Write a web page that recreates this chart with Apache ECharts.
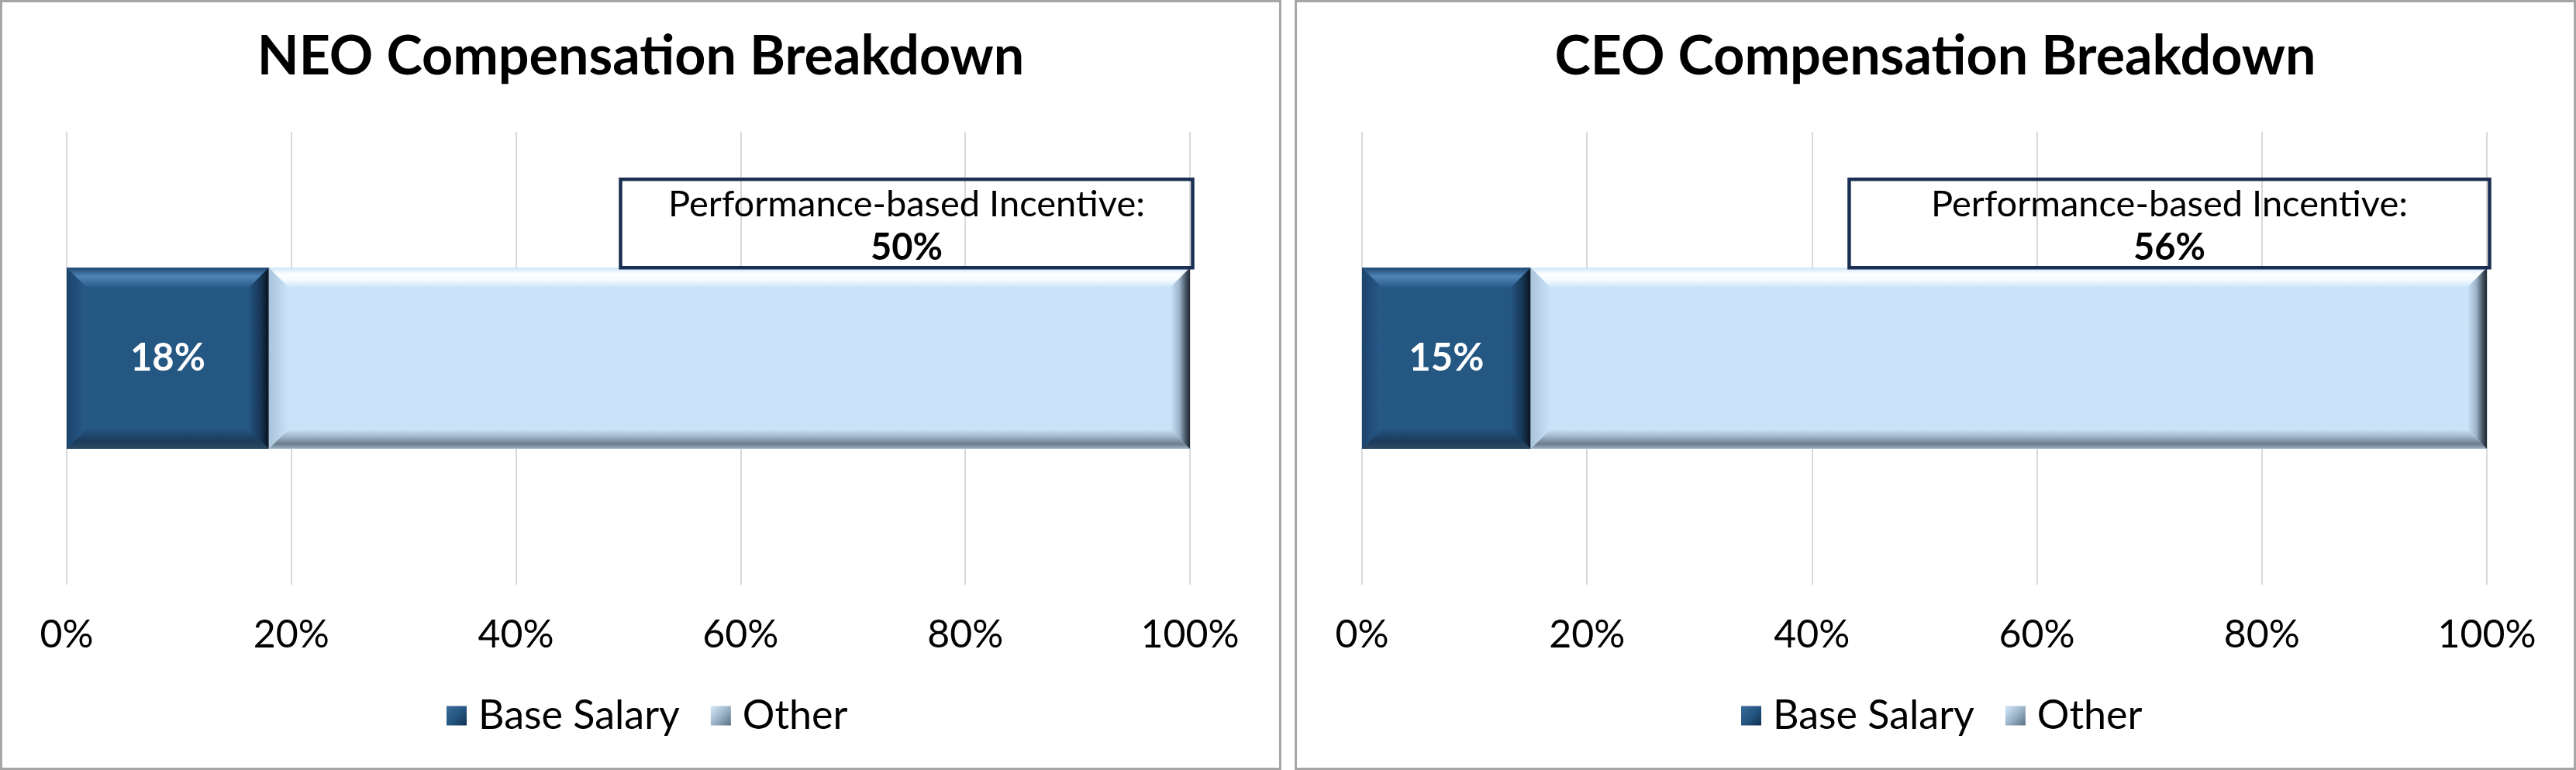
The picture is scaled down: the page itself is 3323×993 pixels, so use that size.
<!DOCTYPE html>
<html>
<head>
<meta charset="utf-8">
<script src="https://cdn.jsdelivr.net/npm/echarts@6/dist/echarts.min.js"></script>
<style>
  html, body { margin: 0; padding: 0; background: #fff; }
  body { width: 3323px; height: 993px; position: relative; overflow: hidden; }
  .panel { position: absolute; top: 0; width: 1653px; height: 993px; box-sizing: border-box; border: 3px solid #a6a6a6; background: #fff; }
  .chart { width: 1647px; height: 987px; }
</style>
</head>
<body>
<div class="panel" style="left:0"><div id="neo" class="chart"></div></div>
<div class="panel" style="left:1670px"><div id="ceo" class="chart"></div></div>
<script>
// ---- data ----
const titles = ['NEO Compensation Breakdown', 'CEO Compensation Breakdown'];
const seriesNames = ['Base Salary', 'Other'];
const categories = ['Compensation'];
const xTicks = [0, 20, 40, 60, 80, 100];
const neoBaseSalary = [18];
const neoOther = [82];
const neoIncentive = [50];
const ceoBaseSalary = [15];
const ceoOther = [85];
const ceoIncentive = [56];
const annotationLabel = 'Performance-based Incentive:';

const FONT = 'Lato';
const G = echarts.graphic;
const lg = (x, y, x2, y2, stops) => new G.LinearGradient(x, y, x2, y2, stops.map((c, i) => ({offset: c[0], color: c[1]})));

const palettes = {
  base: {
    main: '#255783',
    top: [[0, '#1e4872'], [0.45, '#4f84b6'], [1, '#2b5c8b']],
    left: [[0, '#1b446c'], [1, '#285a88']],
    right: [[0, '#245381'], [0.55, '#173756'], [1, '#08131f']],
    bottom: [[0, '#245381'], [0.6, '#1b3b5a'], [1, '#2c4862']]
  },
  other: {
    main: '#cbe3f8',
    top: [[0, '#cfe5f8'], [0.35, '#ffffff'], [0.65, '#f2faff'], [1, '#cde5f9']],
    left: [[0, '#a9c3da'], [1, '#cbe3f8']],
    right: [[0, '#cbe3f8'], [0.45, '#9cb3c8'], [0.8, '#43525f'], [1, '#1d2832']],
    bottom: [[0, '#cbe3f8'], [0.35, '#a3b9cd'], [0.75, '#6b7c8d'], [1, '#9fb4c7']]
  }
};

function bevelRender(pal, showLabel) {
  return function (params, api) {
    const s = api.value(0), e = api.value(1), cat = api.value(2);
    const p0 = api.coord([s, cat]), p1 = api.coord([e, cat]);
    const h = api.size([0, 1])[1] * 0.4;
    const x = p0[0], w = p1[0] - p0[0], y = p0[1] - h / 2;
    const b = Math.min(25, w / 2, h / 2);
    const children = [
      {type: 'rect', shape: {x, y, width: w, height: h}, style: {fill: pal.main}},
      {type: 'polygon', shape: {points: [[x, y], [x + w, y], [x + w - b, y + b], [x + b, y + b]]}, style: {fill: lg(0, 0, 0, 1, pal.top)}},
      {type: 'polygon', shape: {points: [[x, y + h], [x + b, y + h - b], [x + w - b, y + h - b], [x + w, y + h]]}, style: {fill: lg(0, 0, 0, 1, pal.bottom)}},
      {type: 'polygon', shape: {points: [[x, y], [x + b, y + b], [x + b, y + h - b], [x, y + h]]}, style: {fill: lg(0, 0, 1, 0, pal.left)}},
      {type: 'polygon', shape: {points: [[x + w, y], [x + w, y + h], [x + w - b, y + h - b], [x + w - b, y + b]]}, style: {fill: lg(0, 0, 1, 0, pal.right)}}
    ];
    if (showLabel) {
      children.push({type: 'text', style: {
        text: Math.round(e - s) + '%', x: x + w / 2, y: p0[1], align: 'center', verticalAlign: 'middle',
        fill: '#ffffff', font: 'bold 49px ' + FONT
      }});
    }
    return {type: 'group', children};
  };
}

function annotationRender(params, api) {
  const s = api.value(0), e = api.value(1), cat = api.value(2);
  const p0 = api.coord([s, cat]), p1 = api.coord([e, cat]);
  const h = api.size([0, 1])[1] * 0.4;
  const barTop = p0[1] - h / 2;
  const x = p0[0] - 10, right = p1[0] + 3.5;
  const y = barTop - 114;
  return {type: 'group', children: [
    {type: 'rect', shape: {x, y, width: right - x, height: barTop - y}, style: {fill: 'none', stroke: '#1b2f52', lineWidth: 4.5}},
    {type: 'text', style: {
      text: '{a|' + annotationLabel + '}\n{b|' + Math.round(e - s) + '%}',
      x: (x + right) / 2, y: y + (barTop - y) / 2 + 4, align: 'center', verticalAlign: 'middle',
      rich: {
        a: {fontFamily: FONT, fontSize: 47, fill: '#000', lineHeight: 56, align: 'center'},
        b: {fontFamily: FONT, fontSize: 47, fontWeight: 'bold', fill: '#000', lineHeight: 56, align: 'center'}
      }
    }}
  ]};
}

function makeChart(id, title, base, other, incentive, gridLeft, gridRight) {
  const chart = echarts.init(document.getElementById(id));
  const baseData = base.map((v, i) => [0, v, i]);
  const otherData = other.map((v, i) => [base[i], base[i] + v, i]);
  const annData = incentive.map((v, i) => [100 - v, 100, i]);
  chart.setOption({
    animation: false,
    title: {
      text: title, left: 'center', top: 30,
      textStyle: {fontFamily: FONT, fontSize: 70, fontWeight: 'bold', color: '#000'}
    },
    legend: {
      top: 889, left: 568, itemWidth: 26, itemHeight: 25, itemGap: 40,
      textStyle: {fontFamily: FONT, fontSize: 52, color: '#000', padding: [0, 0, 0, 10]},
      data: [
        {name: seriesNames[0], icon: 'rect', itemStyle: {color: lg(0, 0, 1, 1, [[0, '#3b6c9a'], [0.5, '#255783'], [1, '#12304f']])}},
        {name: seriesNames[1], icon: 'rect', itemStyle: {color: lg(0, 0, 1, 1, [[0, '#d6e9f8'], [0.5, '#9cb4ca'], [1, '#5c6f82']])}}
      ]
    },
    grid: {left: gridLeft, right: gridRight, top: 167, bottom: 236},
    xAxis: {
      type: 'value', min: xTicks[0], max: xTicks[xTicks.length - 1], interval: xTicks[1] - xTicks[0],
      axisLine: {show: false}, axisTick: {show: false},
      axisLabel: {formatter: '{value}%', fontFamily: FONT, fontSize: 50, color: '#000', margin: 40},
      splitLine: {show: true, lineStyle: {color: '#d9d9d9', width: 2}}
    },
    yAxis: {
      type: 'category', data: categories, show: false
    },
    series: [
      {name: seriesNames[0], type: 'custom', renderItem: bevelRender(palettes.base, true), data: baseData,
       encode: {x: [0, 1], y: 2}, itemStyle: {color: '#255783'}, z: 2},
      {name: seriesNames[1], type: 'custom', renderItem: bevelRender(palettes.other, false), data: otherData,
       encode: {x: [0, 1], y: 2}, itemStyle: {color: '#b5cde2'}, z: 2},
      {name: 'Performance-based Incentive', type: 'custom', renderItem: annotationRender, data: annData,
       encode: {x: [0, 1], y: 2}, z: 3, silent: true}
    ]
  });
  return chart;
}

makeChart('neo', titles[0], neoBaseSalary, neoOther, neoIncentive, 83, 115);
makeChart('ceo', titles[1], ceoBaseSalary, ceoOther, ceoIncentive, 84, 112);
</script>
</body>
</html>
